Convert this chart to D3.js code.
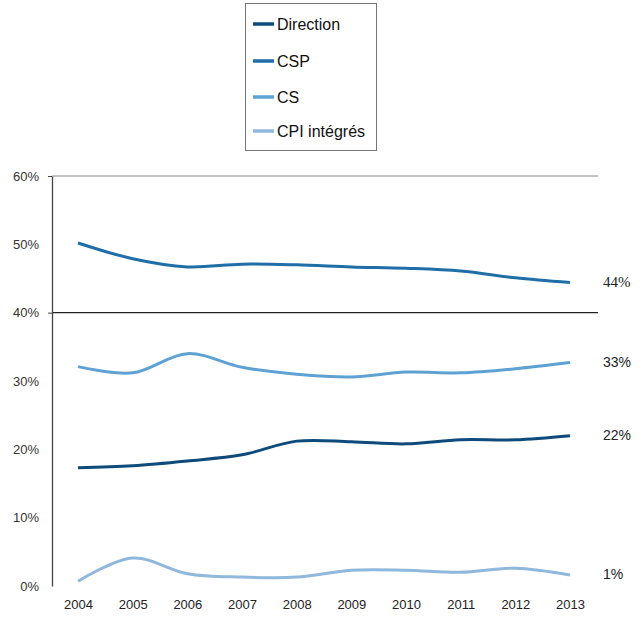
<!DOCTYPE html>
<html><head><meta charset="utf-8">
<script src="https://cdn.jsdelivr.net/npm/d3@7"></script>
<style>body{margin:0;background:#fff}svg{display:block}</style>
</head><body>
<script>
const years = [2004,2005,2006,2007,2008,2009,2010,2011,2012,2013];
const direction = [17.3,17.6,18.3,19.2,21.2,21.1,20.8,21.4,21.4,22.0];
const csp = [50.2,47.9,46.7,47.1,47.0,46.7,46.5,46.1,45.1,44.4];
const cs = [32.1,31.2,34.0,32.0,31.0,30.6,31.3,31.2,31.8,32.7];
const cpi = [0.7,4.1,1.8,1.3,1.3,2.3,2.3,2.0,2.6,1.6];
const seriesNames = ["Direction","CSP","CS","CPI intégrés"];
const endLabels = ["22%","44%","33%","1%"];
const yTicks = [0,10,20,30,40,50,60];

const colors = ["#0e4a7a","#1f6ea8","#5ea2d4","#8fb8dc"];
const series = [direction,csp,cs,cpi].map((v,i)=>({name:seriesNames[i],values:v,color:colors[i],label:endLabels[i]}));

const W=641,H=618;
const svg=d3.select("body").append("svg").attr("width",W).attr("height",H);
const x=d3.scalePoint().domain(years).range([78,570]);
const y=d3.scaleLinear().domain([0,60]).range([586,176]);

// gridlines
svg.append("line").attr("x1",52).attr("x2",598).attr("y1",y(60)).attr("y2",y(60)).attr("stroke","#888").attr("stroke-width",1);
svg.append("line").attr("x1",52).attr("x2",598).attr("y1",y(40)).attr("y2",y(40)).attr("stroke","#222").attr("stroke-width",1.3);

// y axis
const ya=svg.append("g").attr("transform","translate(52,0)").call(d3.axisLeft(y).tickValues(yTicks).tickFormat(d=>d+"%").tickSize(4).tickSizeOuter(0));
ya.select(".domain").attr("stroke","#444").attr("stroke-width",1.3);
ya.selectAll(".tick line").attr("stroke",d=>(d===60||d===40)?"#444":"none");
ya.selectAll("text").attr("font-family","Liberation Sans, Arial").attr("font-size",13).attr("fill","#333").attr("x",-13);

// x axis labels
const xa=svg.append("g").attr("transform","translate(0,586)").call(d3.axisBottom(x).tickSize(0).tickPadding(14));
xa.select(".domain").remove();
xa.selectAll("text").attr("font-family","Liberation Sans, Arial").attr("font-size",13).attr("fill","#222");

// lines
const line=d3.line().x((d,i)=>x(years[i])).y(d=>y(d)).curve(d3.curveCatmullRom.alpha(0.5));
series.forEach(s=>{
  svg.append("path").attr("d",line(s.values)).attr("fill","none").attr("stroke",s.color).attr("stroke-width",3).attr("stroke-linejoin","round");
  const last=s.values[s.values.length-1];
  svg.append("text").attr("x",603).attr("y",y(last)+4)
    .style("font-family", s.name==="CSP" ? "'Liberation Serif', 'DejaVu Serif', serif" : "'Liberation Sans', Arial, sans-serif")
    .attr("font-size", s.name==="CSP" ? 15 : 14).attr("fill","#222").text(s.label);
});

// legend
const lg=svg.append("g");
lg.append("rect").attr("x",245.5).attr("y",3.5).attr("width",131).attr("height",147).attr("fill","#fff").attr("stroke","#777");
const ly=[24,61,97,131];
series.forEach((s,i)=>{
  lg.append("line").attr("x1",253).attr("x2",274).attr("y1",ly[i]).attr("y2",ly[i]).attr("stroke",s.color).attr("stroke-width",3.5);
  lg.append("text").attr("x",277).attr("y",ly[i]+5.5).attr("font-family","Liberation Sans, Arial").attr("font-size",16).attr("fill","#111").text(s.name);
});
</script>
</body></html>
